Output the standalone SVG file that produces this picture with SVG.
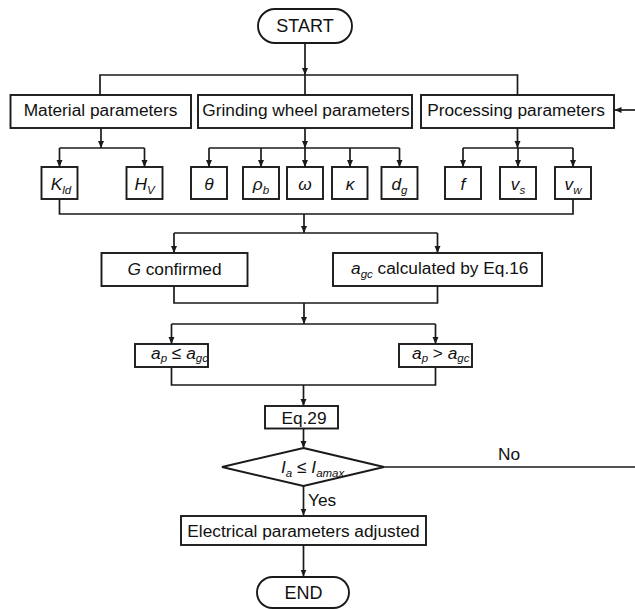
<svg xmlns="http://www.w3.org/2000/svg" width="635" height="609" viewBox="0 0 635 609">
<defs>
<style>
.box{fill:#fff;stroke:#1a1a1a;stroke-width:1.9}
.ln{fill:none;stroke:#1a1a1a;stroke-width:1.7}
.t{font-family:"Liberation Sans",Arial,sans-serif;font-size:17.3px;fill:#111}
.i{font-style:italic}
.s{font-size:11.5px;font-style:italic}
</style>
<marker id="ar" markerUnits="userSpaceOnUse" markerWidth="8" markerHeight="8" refX="7" refY="3" orient="auto">
<path d="M0,0 L7,3 L0,6 z" fill="#1a1a1a"/>
</marker>
</defs>
<rect width="635" height="609" fill="#fff"/>

<g id="connectors">
<path class="ln" d="M305,43 V75" marker-end="url(#ar)"/>
<path class="ln" d="M100,95 V75 H517.5 V95 M305,75 V95"/>
<path class="ln" d="M101,128 V148" marker-end="url(#ar)"/>
<path class="ln" d="M59.5,148 H144.5"/>
<path class="ln" d="M59.5,148 V167" marker-end="url(#ar)"/>
<path class="ln" d="M144.5,148 V167" marker-end="url(#ar)"/>
<path class="ln" d="M305,128 V148" marker-end="url(#ar)"/>
<path class="ln" d="M209,148 H399.5"/>
<path class="ln" d="M209,148 V167" marker-end="url(#ar)"/>
<path class="ln" d="M261,148 V167" marker-end="url(#ar)"/>
<path class="ln" d="M305,148 V167" marker-end="url(#ar)"/>
<path class="ln" d="M350,148 V167" marker-end="url(#ar)"/>
<path class="ln" d="M399.5,148 V167" marker-end="url(#ar)"/>
<path class="ln" d="M517.5,128 V148" marker-end="url(#ar)"/>
<path class="ln" d="M463,148 H573"/>
<path class="ln" d="M463,148 V167" marker-end="url(#ar)"/>
<path class="ln" d="M518,148 V167" marker-end="url(#ar)"/>
<path class="ln" d="M573,148 V167" marker-end="url(#ar)"/>
<path class="ln" d="M59.5,199 V214 H573 V199"/>
<path class="ln" d="M304,214 V233" marker-end="url(#ar)"/>
<path class="ln" d="M174,233 H437.5"/>
<path class="ln" d="M174,233 V253" marker-end="url(#ar)"/>
<path class="ln" d="M437.5,233 V253" marker-end="url(#ar)"/>
<path class="ln" d="M174,286 V303 H437.5 V286"/>
<path class="ln" d="M304,303 V324" marker-end="url(#ar)"/>
<path class="ln" d="M171.5,324 H435.5"/>
<path class="ln" d="M171.5,324 V344" marker-end="url(#ar)"/>
<path class="ln" d="M435.5,324 V344" marker-end="url(#ar)"/>
<path class="ln" d="M171.5,367 V385 H435.5 V367"/>
<path class="ln" d="M303.5,385 V406" marker-end="url(#ar)"/>
<path class="ln" d="M303.5,428 V448" marker-end="url(#ar)"/>
<path class="ln" d="M303.5,486 V515.5" marker-end="url(#ar)"/>
<path class="ln" d="M303.5,545 V576.5" marker-end="url(#ar)"/>
<path class="ln" d="M384,467 H635"/>
<path class="ln" d="M635,110 H614.5" marker-end="url(#ar)"/>
<text class="t" x="498" y="460">No</text>
<text class="t" x="308" y="506">Yes</text>
</g>

<g id="start">
<rect class="box" x="258" y="9" width="94" height="34" rx="17"/>
<text class="t" x="305" y="32" text-anchor="middle" style="font-size:18px">START</text>
</g>

<g id="material">
<rect class="box" x="10.5" y="95" width="180.5" height="33"/>
<text class="t" x="100.5" y="116" text-anchor="middle">Material parameters</text>
</g>
<g id="grinding">
<rect class="box" x="198" y="95" width="214" height="33"/>
<text class="t" x="306" y="116" text-anchor="middle">Grinding wheel parameters</text>
</g>
<g id="processing">
<rect class="box" x="421" y="95" width="193" height="33"/>
<text class="t" x="516" y="116" text-anchor="middle">Processing parameters</text>
</g>

<g id="kld">
<rect class="box" x="41.5" y="167" width="36" height="32"/>
<text class="t" x="61" y="189.5" text-anchor="middle"><tspan class="i">K</tspan><tspan class="s" dy="4">ld</tspan></text>
</g>
<g id="hv">
<rect class="box" x="126.5" y="167" width="36" height="32"/>
<text class="t" x="144.5" y="189.5" text-anchor="middle"><tspan class="i">H</tspan><tspan class="s" dy="4">V</tspan></text>
</g>
<g id="theta">
<rect class="box" x="191" y="167" width="36" height="32"/>
<text class="t i" x="209" y="189.5" text-anchor="middle">θ</text>
</g>
<g id="rhob">
<rect class="box" x="243" y="167" width="36" height="32"/>
<text class="t" x="261" y="189.5" text-anchor="middle"><tspan class="i">ρ</tspan><tspan class="s" dy="4">b</tspan></text>
</g>
<g id="omega">
<rect class="box" x="287" y="167" width="36" height="32"/>
<text class="t i" x="305" y="189.5" text-anchor="middle">ω</text>
</g>
<g id="kappa">
<rect class="box" x="332" y="167" width="35.5" height="32"/>
<text class="t i" x="350" y="189.5" text-anchor="middle">κ</text>
</g>
<g id="dg">
<rect class="box" x="381.5" y="167" width="36" height="32"/>
<text class="t" x="399.5" y="189.5" text-anchor="middle"><tspan class="i">d</tspan><tspan class="s" dy="4">g</tspan></text>
</g>
<g id="f">
<rect class="box" x="445" y="167" width="36" height="32"/>
<text class="t i" x="463" y="189.5" text-anchor="middle">f</text>
</g>
<g id="vs">
<rect class="box" x="500" y="167" width="36" height="32"/>
<text class="t" x="518" y="189.5" text-anchor="middle"><tspan class="i">v</tspan><tspan class="s" dy="4">s</tspan></text>
</g>
<g id="vw">
<rect class="box" x="555" y="167" width="36" height="32"/>
<text class="t" x="573" y="189.5" text-anchor="middle"><tspan class="i">v</tspan><tspan class="s" dy="4">w</tspan></text>
</g>

<g id="gconfirmed">
<rect class="box" x="101.5" y="253" width="146" height="33"/>
<text class="t" x="174.5" y="274.5" text-anchor="middle"><tspan class="i">G</tspan> confirmed</text>
</g>
<g id="agc">
<rect class="box" x="333" y="253" width="209" height="33"/>
<text class="t" x="351" y="274"><tspan class="i">a</tspan><tspan class="s" dy="4">gc</tspan><tspan dy="-4"> calculated by Eq.16</tspan></text>
</g>

<g id="aple">
<rect class="box" x="135" y="344" width="73" height="23"/>
<text class="t" x="151" y="358.5"><tspan class="i">a</tspan><tspan class="s" dy="3">p</tspan><tspan dy="-3"> ≤ </tspan><tspan class="i">a</tspan><tspan class="s" dy="3">gc</tspan></text>
</g>
<g id="apgt">
<rect class="box" x="399" y="344" width="73" height="23"/>
<text class="t" x="412" y="358.5"><tspan class="i">a</tspan><tspan class="s" dy="3">p</tspan><tspan dy="-3"> &gt; </tspan><tspan class="i">a</tspan><tspan class="s" dy="3">gc</tspan></text>
</g>

<g id="eq29">
<rect class="box" x="265" y="406" width="73" height="22.5"/>
<text class="t" x="304" y="423.5" text-anchor="middle">Eq.29</text>
</g>

<g id="decision">
<polygon class="box" points="303.5,448 384,467 303.5,486 222,467"/>
<text class="t" x="281" y="473"><tspan class="i">I</tspan><tspan class="s" dy="3.5">a</tspan><tspan dy="-3.5"> ≤ </tspan><tspan class="i">I</tspan><tspan class="s" dy="3.5">amax</tspan></text>
</g>

<g id="electrical">
<rect class="box" x="181" y="516" width="245" height="29"/>
<text class="t" x="303.5" y="536.5" text-anchor="middle">Electrical parameters adjusted</text>
</g>

<g id="end">
<rect class="box" x="257" y="577" width="92" height="31" rx="15.5"/>
<text class="t" x="303.5" y="598.5" text-anchor="middle" style="font-size:18px">END</text>
</g>
</svg>
